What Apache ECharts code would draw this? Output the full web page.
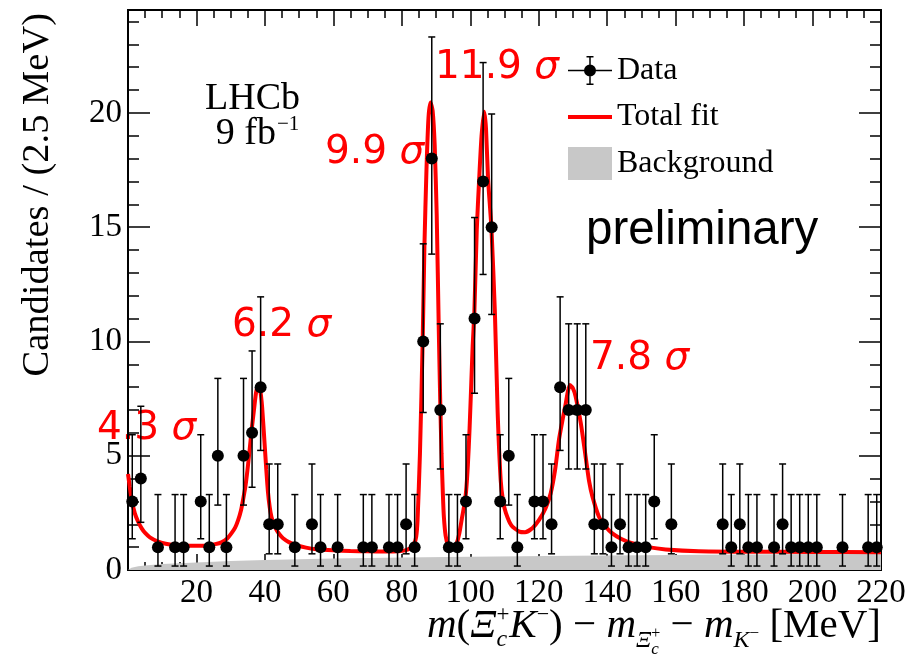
<!DOCTYPE html>
<html><head><meta charset="utf-8">
<script src="https://cdn.jsdelivr.net/npm/echarts@6/dist/echarts.min.js"></script>
<style>html,body{margin:0;padding:0;background:#fff}#c{width:915px;height:659px}</style>
</head><body><div id="c"></div>
<script>
// ---- data ----
const binCenters = [1.25,3.75,8.75,13.75,16.25,21.25,23.75,26.25,28.75,33.75,36.25,38.75,41.25,43.75,48.75,53.75,56.25,61.25,68.75,71.25,76.25,78.75,81.25,83.75,86.25,88.75,91.25,93.75,96.25,98.75,101.25,103.75,106.25,108.75,111.25,113.75,118.75,121.25,123.75,126.25,128.75,131.25,133.75,136.25,138.75,141.25,143.75,146.25,148.75,151.25,153.75,158.75,173.75,176.25,178.75,181.25,183.75,188.75,191.25,193.75,196.25,198.75,201.25,208.75,216.25,218.75];
const counts = [3,4,1,1,1,3,1,5,1,5,6,8,2,2,1,2,1,1,1,1,1,1,2,1,10,18,7,1,1,3,11,17,15,3,5,1,3,3,2,8,7,7,7,2,2,1,2,1,1,1,3,2,2,1,2,1,1,1,2,1,1,1,1,1,1,1];
// error-bar ends per count (lower, upper)
const errLowByCount  = {1:0.173,2:0.708,3:1.367,4:2.086,5:2.840,6:3.620,7:4.419,8:5.232,10:6.891,11:7.734,15:11.18,17:12.93,18:13.82};
const errHighByCount = {1:3.300,2:4.638,3:5.918,4:7.163,5:8.382,6:9.584,7:10.77,8:11.95,10:14.27,11:15.42,15:19.95,17:22.20,18:23.32};
const fitX = [0,0.5,1.1,2,3,4,5,6.4,8.8,11,13.7,16,18.6,21,23.4,25.5,27.3,29,30.2,31.3,32.2,33,33.6,34.3,34.9,35.5,36.1,36.8,37.4,38,38.6,39.2,39.9,40.4,40.9,41.4,41.9,42.6,43.4,44.3,45.3,47,49.2,52,55,60,65,70,75,79,81,82.5,83.5,84.2,84.6,85.3,86.1,86.6,87.2,87.8,88.4,89,89.6,90.2,90.8,91.25,91.6,92,92.3,92.8,93.5,94.5,95.3,96,96.8,97.6,98.2,98.75,99.3,99.8,100.3,100.7,101.2,101.9,102.6,103.3,104.1,104.6,105.2,106.2,107.2,108,108.9,109.6,110.4,112,114.3,116,118.2,120.1,122,123.5,124.8,125.9,127,127.9,128.5,129.1,130,130.8,132.3,133.7,134.7,135.7,137.6,139.5,141.5,144,147.3,152,157.1,166.8,180,200,220];
const fitY = [4.2,3.65,3.06,2.48,2.1,1.82,1.62,1.43,1.24,1.15,1.09,1.07,1.06,1.06,1.07,1.13,1.21,1.38,1.6,1.85,2.19,2.6,3.06,3.65,4.37,5.2,6.1,7.0,7.75,8.1,7.9,7.1,5.54,4.4,3.4,2.75,2.33,2.0,1.75,1.55,1.39,1.22,1.09,0.98,0.91,0.86,0.83,0.82,0.81,0.82,0.86,0.95,1.1,1.46,2.19,5.1,10.06,14.14,17.5,19.8,20.45,20.1,18.6,15.5,10.5,7.2,5.1,3.3,2.3,1.5,1.1,0.97,1.0,1.15,1.6,2.3,2.8,3.4,4.6,6.2,8.2,9.8,11.3,14.9,17.1,19.0,20.05,19.3,17.1,14.9,11.24,6.9,3.9,3.0,2.5,1.95,1.68,1.65,1.84,2.19,2.7,3.36,4.4,5.69,6.6,7.29,7.8,8.09,7.95,7.58,6.42,4.96,3.9,3.21,2.33,1.9,1.6,1.37,1.17,1.0,0.9,0.82,0.8,0.79,0.78];
const bkgX = [0,1,3,5,10,20,30,40,60,80,100,130,160,190,220];
const bkgY = [0,0.1,0.16,0.2,0.26,0.33,0.39,0.44,0.5,0.55,0.58,0.62,0.66,0.69,0.72];
const sigmaLabels = ['4.3','6.2','9.9','11.9','7.8'];
const legendNames = ['Data','Total fit','Background'];

// ---- chart ----
const SERIF = '"Liberation Serif", "Times New Roman", serif';
const SANS = '"Liberation Sans", Arial, sans-serif';
const DJV = '"DejaVu Sans", sans-serif';
const chart = echarts.init(document.getElementById('c'), null, {renderer:'canvas'});
const black = '#000';

function xAx(pos, showLabel){
  return {type:'value', position:pos, min:0, max:220, interval:20,
    axisLine:{show:true, onZero:false, lineStyle:{color:black, width:2}},
    axisTick:{show:true, inside:true, length:16, lineStyle:{color:black, width:1.5}},
    minorTick:{show:true, splitNumber:4, length:8, lineStyle:{color:black, width:1.5}},
    splitLine:{show:false}, minorSplitLine:{show:false},
    axisLabel:{show:showLabel, margin:7, fontFamily:SERIF, fontSize:33, color:black,
      formatter:v => v===0 ? '' : String(v)}};
}
function yAx(pos, interval, len, showLabel){
  return {type:'value', position:pos, min:0, max:24.5, interval:interval,
    axisLine:{show:true, onZero:false, lineStyle:{color:black, width:2}},
    axisTick:{show:true, inside:true, length:len, lineStyle:{color:black, width:1.5}},
    splitLine:{show:false},
    axisLabel:{show:showLabel, margin:6, fontFamily:SERIF, fontSize:33, color:black,
      formatter:v => (v % 5 === 0) ? String(v) : ''}};
}

const dataIcon = 'path://M0,0 L0.01,0 L0.01,0.01 Z M43.99,32.99 L44,32.99 L44,33 Z ' +
  'M0,15.75 L44,15.75 L44,17.25 L0,17.25 Z M21.25,2 L22.75,2 L22.75,31 L21.25,31 Z ' +
  'M18.5,2 L25.5,2 L25.5,3.5 L18.5,3.5 Z M18.5,29.5 L25.5,29.5 L25.5,31 L18.5,31 Z ' +
  'M28,16.5 A6,6 0 1 1 16,16.5 A6,6 0 1 1 28,16.5 Z';
const fitIcon = 'path://M0,0 L0.01,0 L0.01,0.01 Z M43.99,32.99 L44,32.99 L44,33 Z M0,14.5 L44,14.5 L44,18.5 L0,18.5 Z';

// x-axis title built from pieces (sub/superscripts)
const mctx = document.createElement('canvas').getContext('2d');
function fnt(size, it){ return (it?'italic ':'') + size + 'px "Liberation Serif"'; }
function tw(t,size,it){ mctx.font = fnt(size,it); return mctx.measureText(t).width; }
const titlePieces = [
  [['m',41,true,0]], [['(',41,false,0]], [['Ξ',41,true,0]],
  [['+',23,false,-17],['c',24,true,8]],
  [['K',41,true,0]], [['−',22,false,-17]], [[')',41,false,0]],
  [[' − ',41,false,0]], [['m',41,true,0]],
  [['Ξ',24,true,9]], [['+',16,false,-1],['c',17,true,15]],
  [[' − ',41,false,0]], [['m',41,true,0]],
  [['K',24,true,9]], [['−',17,false,-1]],
  [[' [MeV]',41,false,0]]
];
const baseY = 640, rightX = 881;
let total = 0;
const adv = titlePieces.map(st => { const w = Math.max(...st.map(p => tw(p[0],p[1],p[2]))); total += w; return w; });
const graphics = [];
let cx = rightX - total;
titlePieces.forEach((st,i) => {
  st.forEach(p => graphics.push({type:'text', x:cx, y:baseY + p[3] - 0.34*p[1], silent:true,
    style:{text:p[0], fontFamily:SERIF, fontSize:p[1], fontStyle:p[2]?'italic':'normal', fill:black, align:'left', verticalAlign:'middle'}}));
  cx += adv[i];
});

// y-axis title
graphics.push({type:'text', x:38, y:13, rotation:Math.PI/2, silent:true,
  style:{text:'Candidates / (2.5 MeV)', fontFamily:SERIF, fontSize:38.5, fill:black, align:'right', verticalAlign:'middle'}});
// LHCb
graphics.push({type:'text', x:300, y:99, silent:true, style:{text:'LHCb', fontFamily:SERIF, fontSize:38, fill:black, align:'right', verticalAlign:'middle'}});
graphics.push({type:'text', x:276, y:134, silent:true, style:{text:'9 fb', fontFamily:SERIF, fontSize:38, fill:black, align:'right', verticalAlign:'middle'}});
graphics.push({type:'text', x:277, y:124, silent:true, style:{text:'−1', fontFamily:SERIF, fontSize:21, fill:black, align:'left', verticalAlign:'middle'}});
// preliminary
graphics.push({type:'text', x:586, y:231, silent:true, style:{text:'preliminary', fontFamily:SANS, fontSize:47.5, fill:black, align:'left', verticalAlign:'middle'}});
// significance labels
const sigPos = [[97,429],[232,326],[325,153],[435,68],[590,359]];
sigmaLabels.forEach((s,i) => graphics.push({type:'text', x:sigPos[i][0], y:sigPos[i][1], silent:true,
  style:{text:s + ' {s|σ}', fontFamily:DJV, fontSize:39, fill:'#ff0000', align:'left', verticalAlign:'middle',
    rich:{s:{fontFamily:DJV, fontSize:39, fontStyle:'italic', fill:'#ff0000'}}}}));

const option = {
  animation:false,
  backgroundColor:'#fff',
  grid:{left:128, right:34, top:10, bottom:89, containLabel:false},
  xAxis:[xAx('bottom', true), xAx('top', false)],
  yAxis:[yAx('left',5,22,true), yAx('left',1,11,false), yAx('right',5,22,false), yAx('right',1,11,false)],
  legend:{show:true, orient:'vertical', left:563, top:49, itemWidth:44, itemHeight:33, itemGap:13.5, selectedMode:false,
    textStyle:{fontFamily:SERIF, fontSize:32, color:black, padding:[0,0,0,0]},
    itemStyle:{borderWidth:0},
    data:[{name:legendNames[0], icon:dataIcon},{name:legendNames[1], icon:fitIcon},{name:legendNames[2], icon:'rect'}]},
  graphic:graphics,
  series:[
    {type:'line', name:legendNames[2], data:bkgX.map((x,i)=>[x,bkgY[i]]), symbol:'none', showSymbol:false,
      color:'#c8c8c8', itemStyle:{color:'#c8c8c8'}, lineStyle:{width:0}, areaStyle:{color:'#c8c8c8', opacity:1}, z:1, silent:true},
    {type:'line', name:legendNames[1], data:fitX.map((x,i)=>[x,fitY[i]]), symbol:'none', showSymbol:false, smooth:0.2,
      color:'#ff0000', itemStyle:{color:'#ff0000'}, lineStyle:{color:'#ff0000', width:4}, z:2, silent:true},
    {type:'custom', name:'errors', data:binCenters.map((x,i)=>[x, errLowByCount[counts[i]], errHighByCount[counts[i]]]),
      encode:{x:0, y:[1,2]}, z:3, silent:true,
      renderItem:(params, api) => {
        const x = api.value(0);
        const p1 = api.coord([x, api.value(1)]), p2 = api.coord([x, api.value(2)]);
        const st = {stroke:black, lineWidth:1.5};
        return {type:'group', children:[
          {type:'line', shape:{x1:p1[0], y1:p1[1], x2:p2[0], y2:p2[1]}, style:st},
          {type:'line', shape:{x1:p1[0]-3.5, y1:p1[1], x2:p1[0]+3.5, y2:p1[1]}, style:st},
          {type:'line', shape:{x1:p2[0]-3.5, y1:p2[1], x2:p2[0]+3.5, y2:p2[1]}, style:st}
        ]};
      }},
    {type:'scatter', name:legendNames[0], data:binCenters.map((x,i)=>[x,counts[i]]), symbol:'circle', symbolSize:12,
      color:black, itemStyle:{color:black, opacity:1}, z:4, silent:true}
  ]
};
chart.setOption(option);
</script></body></html>
